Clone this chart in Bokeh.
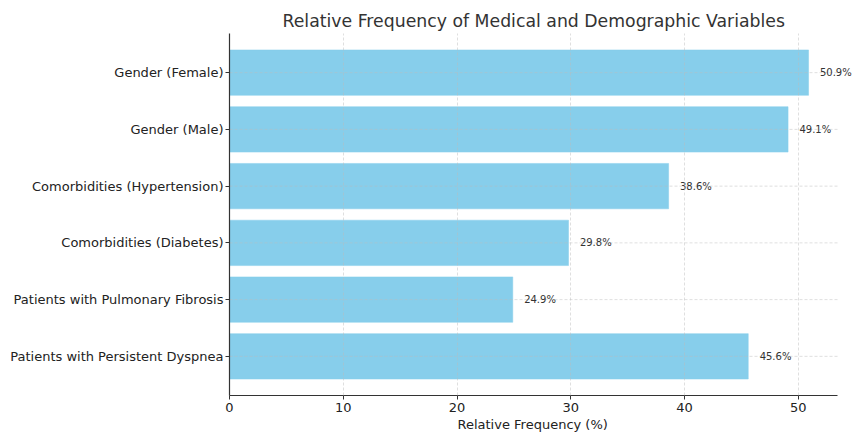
from bokeh.plotting import figure
from bokeh.models import ColumnDataSource, FactorRange, Range1d, FixedTicker, LabelSet, Title
from bokeh.core.properties import value
from bokeh.embed import file_html
from bokeh.resources import INLINE

categories = [
    "Gender (Female)",
    "Gender (Male)",
    "Comorbidities (Hypertension)",
    "Comorbidities (Diabetes)",
    "Patients with Pulmonary Fibrosis",
    "Patients with Persistent Dyspnea",
]
frequencies = [50.9, 49.1, 38.6, 29.8, 24.9, 45.6]
x_ticks = [0, 10, 20, 30, 40, 50]
title_text = "Relative Frequency of Medical and Demographic Variables"
x_label = "Relative Frequency (%)"

FONT = "DejaVu Sans"
factors = list(reversed(categories))

x_max = max(frequencies) * 1.05          # axes limit (matplotlib-like margin)
FRAME_AXES_W = 608                       # visible axes width in px
FRAME_W = 625                            # frame widened so labels aren't clipped
x_end = x_max * FRAME_W / FRAME_AXES_W

src = ColumnDataSource(dict(
    cat=categories,
    val=frequencies,
    lx=[v + 1 for v in frequencies],
    lab=[f"{v:.1f}%" for v in frequencies],
    x0=[0] * len(categories),
    x1=[x_max] * len(categories),
))

p = figure(
    width=854, height=433,
    frame_width=FRAME_W, frame_height=362,
    y_range=FactorRange(factors=factors, range_padding=0.0633, range_padding_units="percent"),
    x_range=Range1d(0, x_end),
    output_backend="svg", toolbar_location=None,
    min_border_left=229, min_border_right=0, min_border_top=33, min_border_bottom=38,
)
p.outline_line_color = None
p.background_fill_color = "white"
p.border_fill_color = "white"

p.title.text = title_text
p.title.text_font = FONT
p.title.text_font_size = "17.3px"
p.title.text_font_style = "normal"
p.title.text_color = "#333333"
p.title.align = "left"
p.title.offset = 53
p.title.standoff = 6

p.hbar(y="cat", right="val", left=0, height=0.8, source=src,
       fill_color="#87CEEB", line_color="#87CEEB", line_width=0.5)

# horizontal grid lines, limited to the axes width
p.segment(x0="x0", x1="x1", y0="cat", y1="cat", source=src,
          line_color="#bbbbbb", line_dash="3 2", line_alpha=0.6, line_width=0.8)
p.ygrid.grid_line_color = None

labels = LabelSet(x="lx", y="cat", text="lab", source=src,
                  text_font=value(FONT), text_font_size=value("10px"),
                  text_color="#333333",
                  text_baseline="middle", text_align="left")
p.add_layout(labels)

p.xgrid.grid_line_color = "#bbbbbb"
p.xgrid.grid_line_dash = "3 2"
p.xgrid.grid_line_alpha = 0.6
p.xgrid.grid_line_width = 0.8
p.xgrid.level = "overlay"

p.xaxis.ticker = FixedTicker(ticks=x_ticks)
p.xaxis.bounds = (0, x_max)
for ax in (p.xaxis, p.yaxis):
    ax.axis_line_color = "#333333"
    ax.axis_line_width = 1.2
    ax.major_tick_line_color = "#333333"
    ax.major_tick_out = 4
    ax.major_tick_in = 0
    ax.minor_tick_line_color = None
    ax.major_label_text_font = FONT
    ax.major_label_text_font_size = "13px"
    ax.major_label_text_color = "#222222"
p.xaxis.major_label_standoff = 3
p.yaxis.major_label_standoff = 2

xlab = Title(text=x_label, align="left", offset=228, standoff=0,
             text_font=FONT, text_font_size="13px", text_font_style="normal",
             text_color="#222222")
p.add_layout(xlab, "below")

open("out.html", "w").write(file_html(p, INLINE))
